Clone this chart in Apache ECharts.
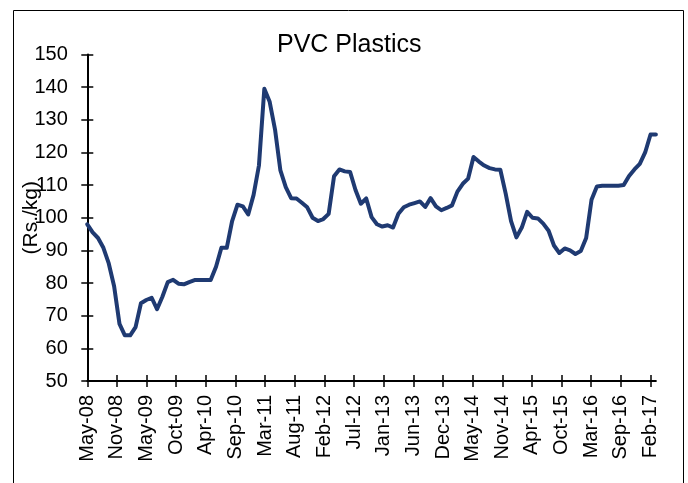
<!DOCTYPE html>
<html>
<head>
<meta charset="utf-8">
<script src="https://cdn.jsdelivr.net/npm/echarts@6/dist/echarts.min.js"></script>
<style>
html,body{margin:0;padding:0;background:#fff;}
#c{width:688px;height:483px;}
</style>
</head>
<body>
<div id="c"></div>
<script>
// Monthly PVC price (Rs./kg), May-08 .. Mar-17
var prices = [
  98, 95.5, 93.8, 90.8, 86, 79, 67.5, 64, 64, 66.5,
  73.8, 74.8, 75.5, 72, 75.8, 80.3, 81, 79.8, 79.6, 80.3,
  80.9, 80.9, 80.9, 80.9, 85, 90.8, 90.8, 99, 104, 103.5,
  101, 107, 116, 139.5, 135.5, 127, 114.5, 109.4, 106, 105.9,
  104.6, 103.2, 100, 99, 99.6, 101.2, 112.7, 114.8, 114.2, 114,
  108.5, 104.3, 105.9, 100.2, 98, 97.3, 97.7, 97, 101.2, 103.2,
  104, 104.5, 105, 103.3, 106, 103.5, 102.3, 103, 103.8, 108,
  110.4, 112, 118.6, 117.2, 116, 115.2, 114.8, 114.7, 107.4, 99,
  94, 97, 101.8, 100, 99.8, 98.2, 96, 91.5, 89.2, 90.6,
  90, 88.9, 89.8, 93.8, 105.5, 109.6, 109.8, 109.8, 109.8, 109.8,
  110, 112.8, 114.8, 116.5, 120, 125.5, 125.5
];
var tickLabels = ['May-08','Nov-08','May-09','Oct-09','Apr-10','Sep-10','Mar-11','Aug-11','Feb-12','Jul-12',
  'Jan-13','Jun-13','Dec-13','May-14','Nov-14','Apr-15','Oct-15','Mar-16','Sep-16','Feb-17'];
var yMin = 50, yMax = 150, yStep = 10;
var titleText = 'PVC Plastics';
var yName = '(Rs./kg)';

var FONT = 'Liberation Sans, Arial, sans-serif';
var INK = '#000';
var LINE = '#1f3a72';

var gLeft = 87.3, gTop = 54.5, gBottom = 102;
var perMonth = 5.364;
var gRightData = 688 - (gLeft + (prices.length - 1) * perMonth);
var gRightTicks = 688 - (gLeft + (tickLabels.length - 1) * (105 / 19) * perMonth);

var chart = echarts.init(document.getElementById('c'), null, {renderer: 'canvas'});
var noAxis = {show: false};
function grid(right) {
  return {left: gLeft, top: gTop, bottom: gBottom, right: right,
          containLabel: false, outerBoundsMode: 'none'};
}
var option = {
  backgroundColor: '#fff',
  animation: false,
  title: {
    text: titleText, left: 277, top: 32.5, padding: 0,
    textStyle: {fontFamily: FONT, fontSize: 25, fontWeight: 'normal', color: INK}
  },
  graphic: [{
    type: 'rect', shape: {x: 13.5, y: 10.5, width: 670, height: 490},
    style: {fill: 'none', stroke: '#000', lineWidth: 1}, silent: true
  }],
  grid: [grid(gRightData), grid(gRightTicks), grid(gRightTicks)],
  xAxis: [
    {gridIndex: 0, type: 'value', min: 0, max: prices.length - 1,
     axisLine: {show: true, onZero: false, lineStyle: {color: INK, width: 2}},
     axisTick: noAxis, axisLabel: noAxis, splitLine: noAxis},
    {gridIndex: 1, type: 'value', min: 0, max: tickLabels.length - 1, interval: 1,
     axisLine: {show: false, onZero: false},
     axisTick: {show: true, inside: false, length: 6, lineStyle: {color: INK, width: 1.5}},
     axisLabel: {show: true, rotate: 90, margin: 14, fontFamily: FONT, fontSize: 20, color: INK,
       formatter: function (v) { return tickLabels[Math.round(v)] || ''; }},
     splitLine: noAxis},
    {gridIndex: 2, type: 'value', min: 0, max: tickLabels.length - 1, interval: 1,
     axisLine: {show: false, onZero: false},
     axisTick: {show: true, inside: true, length: 6, lineStyle: {color: INK, width: 1.5}},
     axisLabel: noAxis, splitLine: noAxis}
  ],
  yAxis: [
    {gridIndex: 0, type: 'value', min: yMin, max: yMax, interval: yStep,
     name: yName, nameLocation: 'middle', nameRotate: 90, nameGap: 46, nameMoveOverlap: false,
     nameTextStyle: {fontFamily: FONT, fontSize: 21, color: INK},
     axisLine: {show: true, onZero: false, lineStyle: {color: INK, width: 2}},
     axisTick: {show: true, inside: false, length: 6, lineStyle: {color: INK, width: 1.5}},
     axisLabel: {show: true, margin: 19.5, fontFamily: FONT, fontSize: 20, color: INK},
     splitLine: noAxis},
    {gridIndex: 1, type: 'value', min: yMin, max: yMax, interval: yStep,
     axisLine: {show: false},
     axisTick: {show: true, inside: true, length: 6, lineStyle: {color: INK, width: 1.5}},
     axisLabel: noAxis, splitLine: noAxis},
    {gridIndex: 2, type: 'value', min: yMin, max: yMax, interval: yStep, show: false}
  ],
  series: [{
    type: 'line', xAxisIndex: 0, yAxisIndex: 0,
    data: prices.map(function (v, i) { return [i, v]; }),
    showSymbol: false, symbol: 'none', smooth: false,
    lineStyle: {color: LINE, width: 4, join: 'round', cap: 'round'}
  }]
};
chart.setOption(option);
</script>
</body>
</html>
